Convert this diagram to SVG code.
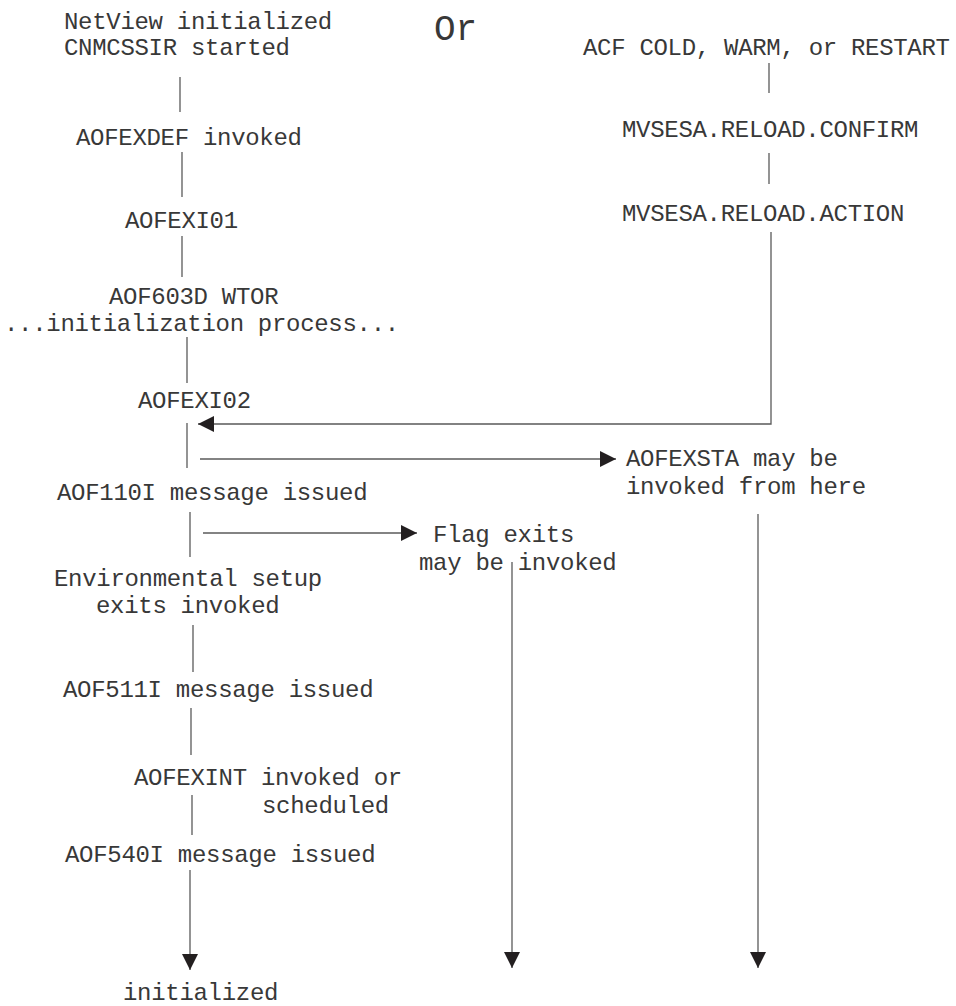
<svg xmlns="http://www.w3.org/2000/svg" width="956" height="1006" viewBox="0 0 956 1006">
<style>
text{font-family:"Liberation Mono","DejaVu Sans Mono",monospace;font-size:24px;letter-spacing:-0.3px;fill:#383838}
.big{font-size:36px;letter-spacing:0}
.ln{stroke:#5a5a5a;stroke-width:1.3;fill:none}
</style>
<defs>
<marker id="ah" viewBox="0 0 16 16" refX="16" refY="8" markerWidth="16" markerHeight="16" markerUnits="userSpaceOnUse" orient="auto">
<path d="M0,0 L16,8 L0,16 Z" fill="#231f20"/>
</marker>
</defs>
<rect width="956" height="1006" fill="#fff"/>
<g id="n-netview"><text x="64" y="29">NetView initialized</text><text x="64" y="55">CNMCSSIR started</text></g>
<g id="n-or"><text class="big" x="434" y="40">Or</text></g>
<g id="n-acf"><text x="583" y="55">ACF COLD, WARM, or RESTART</text></g>
<g id="n-confirm"><text x="622" y="137">MVSESA.RELOAD.CONFIRM</text></g>
<g id="n-action"><text x="622" y="221">MVSESA.RELOAD.ACTION</text></g>
<g id="n-exdef"><text x="76" y="145">AOFEXDEF invoked</text></g>
<g id="n-exi01"><text x="125" y="228">AOFEXI01</text></g>
<g id="n-603d"><text x="109" y="304">AOF603D WTOR</text><text x="4" y="331">...initialization process...</text></g>
<g id="n-exi02"><text x="138" y="408">AOFEXI02</text></g>
<g id="n-exsta"><text x="626" y="466">AOFEXSTA may be</text><text x="626" y="494">invoked from here</text></g>
<g id="n-110i"><text x="57" y="500">AOF110I message issued</text></g>
<g id="n-flag"><text x="433" y="542">Flag exits</text><text x="419" y="570">may be invoked</text></g>
<g id="n-env"><text x="54" y="586">Environmental setup</text><text x="96" y="613">exits invoked</text></g>
<g id="n-511i"><text x="63" y="697">AOF511I message issued</text></g>
<g id="n-exint"><text x="134" y="785">AOFEXINT invoked or</text><text x="262" y="813">scheduled</text></g>
<g id="n-540i"><text x="65" y="862">AOF540I message issued</text></g>
<g id="n-init"><text x="123" y="1000">initialized</text></g>
<g id="connectors">
<line class="ln" x1="180" y1="77" x2="180" y2="112"/>
<line class="ln" x1="182" y1="152" x2="182" y2="197"/>
<line class="ln" x1="182" y1="236" x2="182" y2="277"/>
<line class="ln" x1="187" y1="337" x2="187" y2="383"/>
<line class="ln" x1="187" y1="423" x2="187" y2="468"/>
<line class="ln" x1="190" y1="512" x2="190" y2="557"/>
<line class="ln" x1="193" y1="625" x2="193" y2="672"/>
<line class="ln" x1="191" y1="708" x2="191" y2="755"/>
<line class="ln" x1="192" y1="795" x2="192" y2="835"/>
<line class="ln" x1="190" y1="870" x2="190" y2="970" marker-end="url(#ah)"/>
<line class="ln" x1="769" y1="63" x2="769" y2="93"/>
<line class="ln" x1="769" y1="153" x2="769" y2="184"/>
<polyline class="ln" points="771,232 771,424 198,424" marker-end="url(#ah)"/>
<line class="ln" x1="200" y1="459" x2="616" y2="459" marker-end="url(#ah)"/>
<line class="ln" x1="203" y1="533" x2="417" y2="533" marker-end="url(#ah)"/>
<line class="ln" x1="512" y1="562" x2="512" y2="968" marker-end="url(#ah)"/>
<line class="ln" x1="758" y1="514" x2="758" y2="968" marker-end="url(#ah)"/>
</g>
</svg>
